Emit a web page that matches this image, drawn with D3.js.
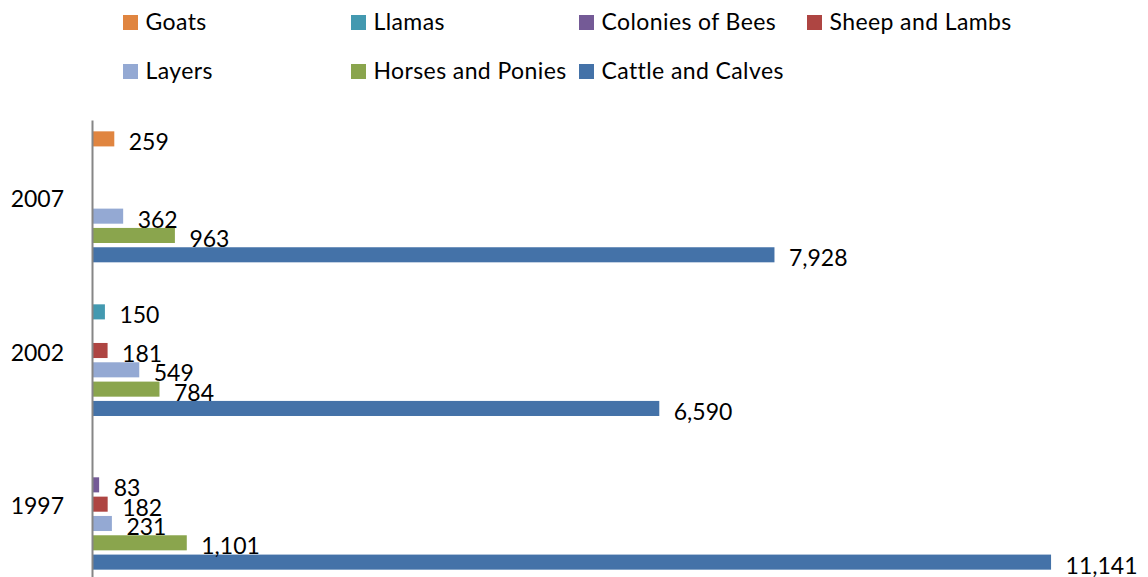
<!DOCTYPE html>
<html>
<head>
<meta charset="utf-8">
<script src="https://cdn.jsdelivr.net/npm/d3@7"></script>
<style>
  html, body { margin: 0; padding: 0; background: #fff; }
  text { font-family: Lato, 'Open Sans', sans-serif; fill: #000; }
</style>
</head>
<body>
<div id="chart"></div>
<script>
var years = ['2007', '2002', '1997'];
var seriesNames = ['Goats', 'Llamas', 'Colonies of Bees', 'Sheep and Lambs', 'Layers', 'Horses and Ponies', 'Cattle and Calves'];
var seriesColors = ['#e08540', '#4399b0', '#745a96', '#ae4542', '#94a9d3', '#8aa54d', '#4472a8'];
// values per series, in the order of years (2007, 2002, 1997); null = no bar
var goats = [259, null, null];
var llamas = [null, 150, null];
var bees = [null, null, 83];
var sheep = [null, 181, 182];
var layers = [362, 549, 231];
var horses = [963, 784, 1101];
var cattle = [7928, 6590, 11141];
var xTicks = [0, 12000];

(function() {
  var W = 1148, H = 577, allValues, svg, x, y, yInner, groups, legend, fmt, yAxis, axisG;

  allValues = [goats, llamas, bees, sheep, layers, horses, cattle];
  fmt = d3.format(',');

  svg = d3.select('#chart').append('svg').attr('width', W).attr('height', H);

  x = d3.scaleLinear().domain([xTicks[0], xTicks[1]]).range([92, 1125]);
  y = d3.scaleBand().domain(years).range([120, 581]).paddingInner(0.12).paddingOuter(0.06);
  yInner = d3.scaleBand().domain(seriesNames).range([0, y.bandwidth()]).paddingInner(0.22).paddingOuter(0.11);

  groups = svg.selectAll('g.year').data(years).enter().append('g')
    .attr('class', 'year')
    .attr('transform', function(d) { return 'translate(0,' + y(d) + ')'; });

  groups.each(function(year, yi) {
    var g = d3.select(this);
    var items = seriesNames.map(function(name, si) {
      return { name: name, value: allValues[si][yi], color: seriesColors[si] };
    }).filter(function(d) { return d.value != null; });

    g.selectAll('rect').data(items).enter().append('rect')
      .attr('x', x(0))
      .attr('y', function(d) { return yInner(d.name); })
      .attr('width', function(d) { return x(d.value) - x(0); })
      .attr('height', yInner.bandwidth())
      .attr('fill', function(d) { return d.color; });

    g.selectAll('text.val').data(items).enter().append('text')
      .attr('class', 'val')
      .attr('x', function(d) { return x(d.value) + 14.5; })
      .attr('y', function(d) { return yInner(d.name) + yInner.bandwidth() / 2 + 11.5; })
      .attr('font-size', 23)
      .text(function(d) { return fmt(d.value); });
  });

  yAxis = d3.axisLeft(y).tickSize(0).tickPadding(28);
  axisG = svg.append('g').attr('transform', 'translate(' + x(0) + ',0)').call(yAxis);
  axisG.select('.domain').attr('stroke', '#868686').attr('stroke-width', 2);
  axisG.selectAll('text').attr('font-size', 23).attr('font-family', 'Lato, sans-serif').attr('fill', '#000').attr('dy', '0.44em');

  legend = svg.append('g').selectAll('g').data(seriesNames).enter().append('g')
    .attr('transform', function(d, i) {
      var col = i < 4 ? i : i - 4, row = i < 4 ? 0 : 1;
      return 'translate(' + (123 + col * 228) + ',' + (15 + row * 49) + ')';
    });
  legend.append('rect').attr('width', 15).attr('height', 15)
    .attr('fill', function(d, i) { return seriesColors[i]; });
  legend.append('text').attr('x', 22.5).attr('y', 15).attr('font-size', 23)
    .attr('letter-spacing', 0.4)
    .text(function(d) { return d; });
})();
</script>
</body>
</html>
